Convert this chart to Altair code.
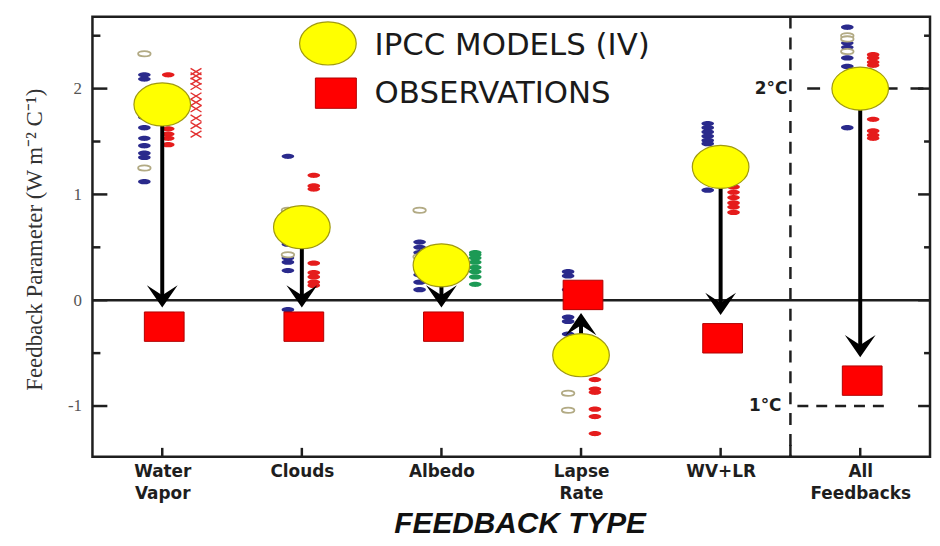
import json
import altair as alt
import pandas as pd

# ---------------- data ----------------
categories = ["Water Vapor", "Clouds", "Albedo", "Lapse Rate", "WV+LR", "All Feedbacks"]
model_mean = [1.85, 0.69, 0.33, -0.52, 1.26, 2.00]
observed = [-0.25, -0.25, -0.25, 0.05, -0.36, -0.76]
arrow_tip = [-0.07, -0.07, -0.07, -0.12, -0.14, -0.54]

blue_models = {
    "Water Vapor": [2.13, 2.09, 1.84, 1.73, 1.63, 1.53, 1.46, 1.39, 1.35, 1.12],
    "Clouds": [1.36, 0.69, 0.53, 0.40, 0.36, 0.28, -0.09],
    "Albedo": [0.55, 0.50, 0.45, 0.36, 0.31, 0.24, 0.17, 0.10],
    "Lapse Rate": [0.27, 0.23, 0.10, -0.16, -0.20, -0.32],
    "WV+LR": [1.67, 1.63, 1.59, 1.55, 1.51, 1.48, 1.04],
    "All Feedbacks": [2.58, 2.43, 2.39, 2.29, 2.21, 1.63],
}
tan_models = {
    "Water Vapor": [2.33, 1.25],
    "Clouds": [0.85, 0.43],
    "Albedo": [0.85, 0.41],
    "Lapse Rate": [-0.88, -1.04],
    "All Feedbacks": [2.50, 2.47, 2.35],
}
red_obs = {
    "Water Vapor": [2.13, 1.62, 1.57, 1.53, 1.47],
    "Clouds": [1.18, 1.08, 1.05, 0.35, 0.26, 0.22, 0.17, 0.14],
    "Lapse Rate": [-0.75, -0.84, -0.87, -1.03, -1.10, -1.26],
    "WV+LR": [1.07, 1.02, 0.97, 0.92, 0.88, 0.83],
    "All Feedbacks": [2.32, 2.29, 2.25, 2.22, 1.86, 1.71, 1.60, 1.56, 1.53],
}
green_obs = {"Albedo": [0.45, 0.43, 0.40, 0.36, 0.31, 0.27, 0.22, 0.15]}
red_crosses = {"Water Vapor": [2.16, 2.12, 2.07, 2.02, 1.93, 1.87, 1.81, 1.72, 1.65, 1.57]}

y_major = [-1, 0, 1, 2]
y_minor = [-0.5, 0.5, 1.5, 2.5]
deg_levels = [2.0, -1.0]
deg_labels = ["2°C", "1°C"]
legend_labels = ["IPCC MODELS (IV)", "OBSERVATIONS"]

# ---------------- layout / style ----------------
W, H = 843, 443
X_DOMAIN = [0.5, 6.5]
Y_DOMAIN = [-1.48, 2.68]
PX = W / 6.0
xs = alt.Scale(domain=X_DOMAIN, nice=False, zero=False)
ys = alt.Scale(domain=Y_DOMAIN, nice=False, zero=False)

col_offset = {  # pixel offsets of the dot columns within each category
    "blue": {"Water Vapor": -18, "Clouds": -14, "Albedo": -22},
    "tan": {"Water Vapor": -18, "Clouds": -14, "Albedo": -22},
    "red": {"Water Vapor": 6, "Clouds": 12, "Lapse Rate": 14},
    "green": {"Albedo": 34},
    "cross": {"Water Vapor": 34},
}
default_offset = {"blue": -13, "tan": -13, "red": 13, "green": 34, "cross": 34}

rows = []
for fam, src in [("blue", blue_models), ("tan", tan_models), ("red", red_obs),
                 ("green", green_obs), ("cross", red_crosses)]:
    for cat, vals in src.items():
        i = categories.index(cat) + 1
        off = col_offset[fam].get(cat, default_offset[fam])
        for v in vals:
            rows.append({"cat": cat, "fam": fam, "value": v, "pos": i + off / PX})
dots = pd.DataFrame(rows)

main = pd.DataFrame({
    "cat": categories,
    "idx": list(range(1, len(categories) + 1)),
    "model": model_mean,
    "obs": observed,
    "tip": arrow_tip,
})

ELL_S = "M-1,0 A1,0.42 0 1,0 1,0 A1,0.42 0 1,0 -1,0 Z"
ELL_B = "M-1,0 A1,0.76 0 1,0 1,0 A1,0.76 0 1,0 -1,0 Z"
RECT = "M-1,-0.74 L1,-0.74 L1,0.74 L-1,0.74 Z"
ARROW = "M0,0 L-1,-1.45 L0,-0.8 L1,-1.45 Z"
CROSS = "M-1,-0.6 L1,0.6 M-1,0.6 L1,-0.6"

INK = "#1e1e1e"

label_expr = "split(" + json.dumps(categories) + "[datum.value - 1], ' ')"

x_axis = alt.Axis(
    values=list(range(1, len(categories) + 1)), labelExpr=label_expr,
    ticks=False, domain=False, grid=False, labelPadding=7, labelOverlap=False,
    labelFont="DejaVu Sans", labelFontSize=17, labelFontWeight="bold", labelColor=INK,
    labelLineHeight=22, labelFlush=False,
    title="FEEDBACK TYPE", titleFont="Liberation Sans", titleFontSize=30,
    titleFontWeight="bold", titleFontStyle="italic", titleColor="#111",
    titleX=430, titleY=67, titleBaseline="middle", titleAlign="center",
)
y_axis = alt.Axis(
    values=y_major, labelExpr="'' + datum.value", ticks=False, domain=False, grid=False,
    labelPadding=11, labelFont="Liberation Serif", labelFontSize=17, labelColor="#555",
    title="Feedback Parameter (W m⁻² C⁻¹)", titleFont="Liberation Serif",
    titleFontSize=23, titleFontWeight="normal", titleColor="#333",
    titleX=-58, titleY=224, titleAngle=270, titleAlign="center", titleBaseline="middle",
)


def X(field):
    return alt.X(field, type="quantitative", scale=xs, axis=x_axis)


def Y(field):
    return alt.Y(field, type="quantitative", scale=ys, axis=y_axis)


zero_df = pd.DataFrame({"x0": [X_DOMAIN[0]], "x1": [X_DOMAIN[1]], "y": [0.0]})
zero = alt.Chart(zero_df).mark_rule(color=INK, strokeWidth=2.5).encode(
    x=X("x0"), x2="x1:Q", y=Y("y"))

ticks_maj = pd.DataFrame({"y": y_major})
ticks_min = pd.DataFrame({"y": y_minor})
left_maj = alt.Chart(ticks_maj).mark_rule(color=INK, strokeWidth=2.5).encode(
    y=Y("y"), x=alt.value(0), x2=alt.value(15))
left_min = alt.Chart(ticks_min).mark_rule(color=INK, strokeWidth=2.5).encode(
    y=Y("y"), x=alt.value(0), x2=alt.value(8))
right_maj = alt.Chart(ticks_maj).mark_rule(color=INK, strokeWidth=2.5).encode(
    y=Y("y"), x=alt.value(W - 12), x2=alt.value(W))
right_min = alt.Chart(ticks_min).mark_rule(color=INK, strokeWidth=2.5).encode(
    y=Y("y"), x=alt.value(W - 6), x2=alt.value(W))
xticks = alt.Chart(main).mark_rule(color=INK, strokeWidth=2.5).encode(
    x=X("idx"), y=alt.value(H), y2=alt.value(H - 9))

div_df = pd.DataFrame({"x": [5.5]})
divider = alt.Chart(div_df).mark_rule(color=INK, strokeWidth=2.5, strokeDash=[12, 9]).encode(
    x=X("x"), y=alt.value(0), y2=alt.value(H))
div_tick = alt.Chart(div_df).mark_rule(color=INK, strokeWidth=2.5).encode(
    x=X("x"), y=alt.value(H), y2=alt.value(H - 12))

deg_df = pd.DataFrame({"y": deg_levels, "label": deg_labels, "xt": [5.5, 5.5],
                       "x0": [5.62, 5.55], "x1": [6.5, 6.22]})
deg2 = alt.Chart(deg_df.iloc[[0]]).mark_rule(color=INK, strokeWidth=2.5, strokeDash=[13, 13]).encode(
    x=X("x0"), x2="x1:Q", y=Y("y"))
deg1 = alt.Chart(deg_df.iloc[[1]]).mark_rule(color=INK, strokeWidth=2.5, strokeDash=[11, 8]).encode(
    x=X("x0"), x2="x1:Q", y=Y("y"))
deg_text2 = alt.Chart(deg_df.iloc[[0]]).mark_text(
    align="right", baseline="middle", dx=-3, font="DejaVu Sans", fontSize=17,
    fontWeight="bold", color=INK).encode(x=X("xt"), y=Y("y"), text="label:N")
deg_text1 = alt.Chart(deg_df.iloc[[1]]).mark_text(
    align="right", baseline="middle", dx=-9, font="DejaVu Sans", fontSize=17,
    fontWeight="bold", color=INK).encode(x=X("xt"), y=Y("y"), text="label:N")


def dot_layer(fam, **mk):
    return alt.Chart(dots).transform_filter(alt.datum.fam == fam).mark_point(
        opacity=1, **mk).encode(x=X("pos"), y=Y("value"))


blue = dot_layer("blue", shape=ELL_S, size=160, filled=True, fill="#2a2a8c", strokeWidth=0)
tan = dot_layer("tan", shape=ELL_S, size=160, fill="white", stroke="#b2aa84", strokeWidth=1.8)
red = dot_layer("red", shape=ELL_S, size=160, filled=True, fill="#e51c1c", strokeWidth=0)
green = dot_layer("green", shape=ELL_S, size=160, filled=True, fill="#1c9a55", strokeWidth=0)
cross = dot_layer("cross", shape=CROSS, size=120, filled=False, stroke="#e23030", strokeWidth=1.4)

shaft = alt.Chart(main).transform_calculate(
    end="datum.tip + (datum.model > datum.tip ? 0.09 : -0.09)"
).mark_rule(color="black", strokeWidth=4, strokeCap="butt").encode(
    x=X("idx"), y=Y("model"), y2="end:Q")
heads = alt.Chart(main).transform_calculate(
    ang="datum.model > datum.tip ? 0 : 180"
).mark_point(shape=ARROW, size=961, filled=True, fill="black", strokeWidth=0, opacity=1).encode(
    x=X("idx"), y=Y("tip"), angle=alt.Angle("ang:Q", scale=None))
circles = alt.Chart(main).mark_point(
    shape=ELL_B, size=3249, filled=True, fill="#ffff00", stroke="#a09a10",
    strokeWidth=1.2, opacity=1).encode(x=X("idx"), y=Y("model"))
squares = alt.Chart(main).mark_point(
    shape=RECT, size=1600, filled=True, fill="#ff0000", stroke="#b00000",
    strokeWidth=1, opacity=1, xOffset=2).encode(x=X("idx"), y=Y("obs"))

# legend (drawn in pixel space)
leg_df = pd.DataFrame({"label": legend_labels})
leg_ell = alt.Chart(leg_df.iloc[[0]]).mark_point(
    shape=ELL_B, size=3249, filled=True, fill="#ffff00", stroke="#a09a10",
    strokeWidth=1.2, opacity=1).encode(x=alt.value(237), y=alt.value(27))
leg_sq = alt.Chart(leg_df.iloc[[1]]).mark_point(
    shape=RECT, size=1700, filled=True, fill="#ff0000", stroke="#b00000",
    strokeWidth=1, opacity=1).encode(x=alt.value(245), y=alt.value(77))
leg_t1 = alt.Chart(leg_df.iloc[[0]]).mark_text(
    align="left", baseline="middle", font="DejaVu Sans", fontSize=31, color="#1a1a1a").encode(
    x=alt.value(284), y=alt.value(30), text="label:N")
leg_t2 = alt.Chart(leg_df.iloc[[1]]).mark_text(
    align="left", baseline="middle", font="DejaVu Sans", fontSize=31, color="#1a1a1a").encode(
    x=alt.value(284), y=alt.value(78), text="label:N")

chart = alt.layer(
    zero, left_maj, left_min, right_maj, right_min, xticks, divider, div_tick,
    deg2, deg1, deg_text2, deg_text1,
    blue, tan, red, green, cross,
    shaft, heads, circles, squares,
    leg_ell, leg_sq, leg_t1, leg_t2,
).properties(
    width=W, height=H,
    padding={"left": 85, "top": 7, "right": 2, "bottom": 80},
    autosize=alt.AutoSizeParams(type="none"),
    background="white",
).configure_view(stroke=INK, strokeWidth=2.5, fill="white")

chart.save("out.html", embed_options={"renderer": "svg", "actions": False})
